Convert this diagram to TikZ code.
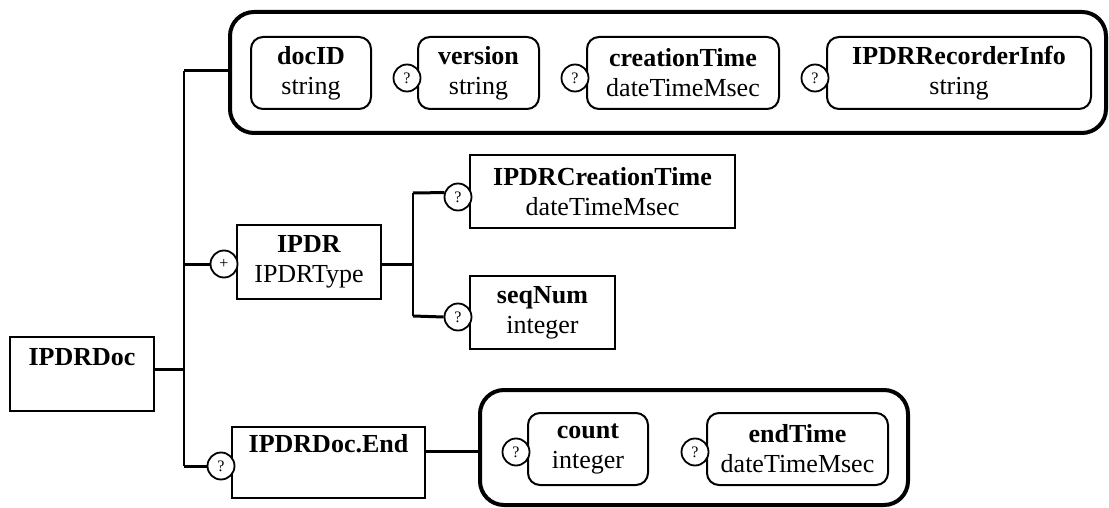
\documentclass[tikz,border=0pt]{standalone}
\usepackage{fontspec}
\setmainfont{Liberation Serif}
\newcommand\dfont{\fontsize{13pt}{15pt}\selectfont}
\newcommand\qfont{\fontsize{8pt}{8pt}\selectfont}
\begin{document}
\begin{tikzpicture}[x=0.5pt,y=-0.5pt,
  rbox/.style={draw, line width=1.2pt, rectangle, inner sep=0pt, align=center, font=\dfont},
  ibox/.style={draw, line width=1pt, rounded corners=6pt, inner sep=0pt, align=center, font=\dfont, minimum height=36pt},
  cont/.style={draw, line width=2pt, rounded corners=12pt, inner sep=0pt},
  opt/.style={draw, circle, line width=0.9pt, fill=white, minimum size=13.5pt, inner sep=0pt, font=\qfont},
  conn/.style={line width=1.5pt},
  vconn/.style={line width=1.2pt},
  lbl/.style={anchor=base, font=\dfont\bfseries, inner sep=0pt}]
\useasboundingbox (0,0) rectangle (1109,508);

% containers
\node[cont, minimum width=438pt, minimum height=60.5pt] (topc) at (668,72.5) {};
\node[cont, minimum width=214pt, minimum height=57.5pt] (botc) at (694,447.5) {};

% top row
\node[ibox, minimum width=60pt] (docid) at (311,73) {\textbf{docID}\\string};
\node[ibox, minimum width=60.5pt] (version) at (478.5,73) {\textbf{version}\\string};
\node[ibox, minimum width=96pt] (ctime) at (683,73) {\textbf{creationTime}\\dateTimeMsec};
\node[ibox, minimum width=132pt] (rinfo) at (959,73) {\textbf{IPDRRecorderInfo}\\string};

% main boxes
\node[rbox, minimum width=72pt, minimum height=37pt] (doc) at (82,374) {};
\node[lbl] (doclbl) at (82,365) {IPDRDoc};
\node[rbox, minimum width=72pt, minimum height=37pt] (ipdr) at (309,262) {\textbf{IPDR}\\IPDRType};
\node[rbox, minimum width=132.5pt, minimum height=36.5pt] (ct) at (602.5,191.5) {\textbf{IPDRCreationTime}\\dateTimeMsec};
\node[rbox, minimum width=72.5pt, minimum height=36.5pt] (sn) at (542.5,312.5) {\textbf{seqNum}\\integer};
\node[rbox, minimum width=96.5pt, minimum height=35.5pt] (end) at (328.5,462.5) {};
\node[lbl] (endlbl) at (328.5,452) {IPDRDoc.End};

% bottom row
\node[ibox, minimum width=60pt] (count) at (588,449) {\textbf{count}\\integer};
\node[ibox, minimum width=90.5pt] (etime) at (797.5,449) {\textbf{endTime}\\dateTimeMsec};

% junctions
\coordinate (jt) at (184,71);
\coordinate (jm) at (184,369);
\coordinate (ji) at (184,264);
\coordinate (jb) at (184,466);
\coordinate (kt) at (413,193);
\coordinate (km) at (413,264);
\coordinate (kb) at (413,316);

% circles
\node[opt] (cv) at (407,78) {?};
\node[opt] (cc) at (575,78) {?};
\node[opt] (cr) at (815,78) {?};
\node[opt] (cct) at (458,197) {?};
\node[opt] (csn) at (458,317) {?};
\node[opt] (cip) at (224,264) {\raisebox{-2.5pt}{+}};
\node[opt] (cend) at (221,466) {?};
\node[opt] (ccount) at (516,452) {?};
\node[opt] (cet) at (695,452) {?};

% connectors
\draw[vconn] (jt) -- (jb);
\draw[conn] (jt) -- (topc.west |- jt);
\draw[conn] (doc.east |- jm) -- (jm);
\draw[conn] (ji) -- (cip.west);
\draw[conn] (jb) -- (cend.west);
\draw[conn] (ipdr.east |- km) -- (km);
\draw[vconn] (kt) -- (kb);
\draw[conn] (kt) -- (cct.162);
\draw[conn] (kb) -- (csn.west);
\draw[conn] (end.east |- 0,451) -- (botc.west |- 0,451);
\end{tikzpicture}
\end{document}
